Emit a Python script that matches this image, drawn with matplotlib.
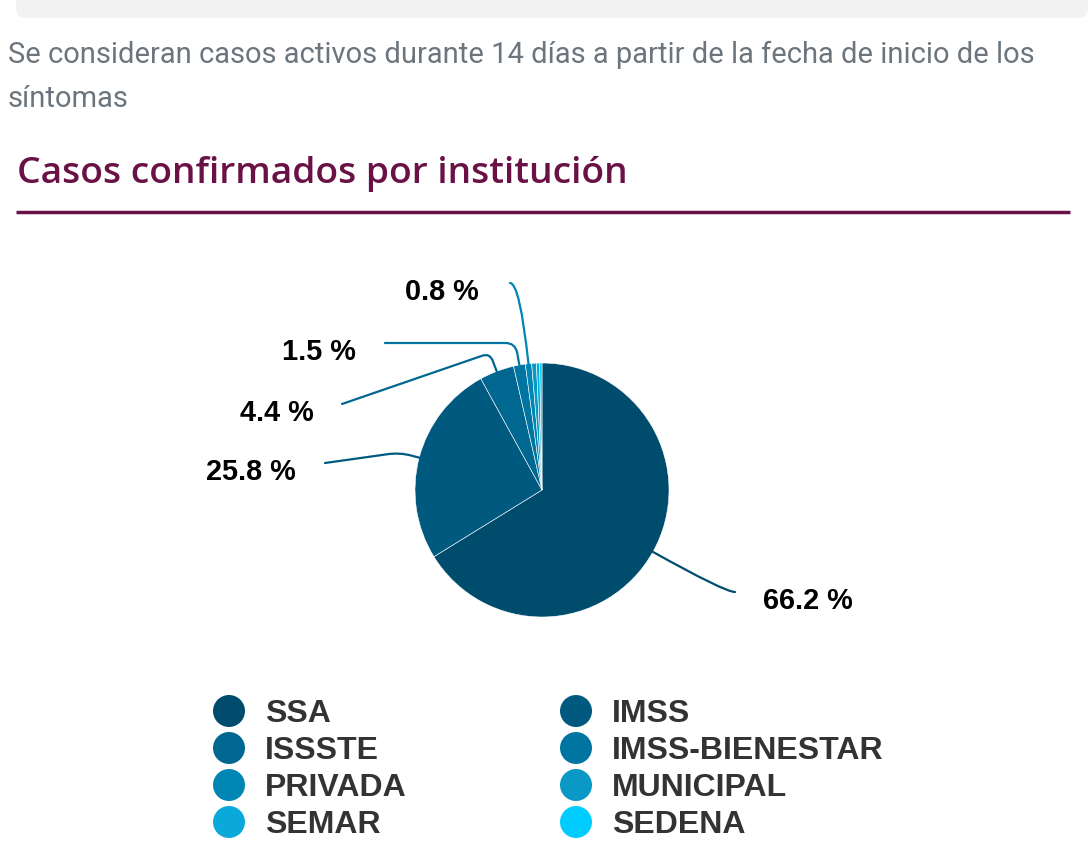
import numpy as np
import matplotlib.pyplot as plt
from matplotlib.patches import Ellipse, FancyBboxPatch

instituciones = ["SSA", "IMSS", "ISSSTE", "IMSS-BIENESTAR", "PRIVADA", "MUNICIPAL", "SEMAR", "SEDENA"]
porcentajes = [66.2, 25.8, 4.4, 1.5, 0.8, 0.6, 0.4, 0.3]
colores = ["#004c6d", "#005a80", "#006790", "#0075a1", "#0086b3", "#0a98c6", "#0aa9d9", "#00ccff"]
etiquetas = ["66.2 %", "25.8 %", "4.4 %", "1.5 %", "0.8 %"]

# label layout (pixel coords, y from top): line start, text x
lab_line = [(735, 592), (325, 463), (342, 404), (385, 343), (510, 283)]
lab_text_x = [763, 296, 314, 356, 479]
lab_conn = ["angle3,angleA=0,angleB={}", "angle,angleA=8,angleB={},rad=12",
            "angle,angleA=19,angleB={},rad=8", "angle,angleA=0,angleB={},rad=10",
            "angle3,angleA=0,angleB={}"]

W, H = 1090, 848
def Y(y):
    return H - y

fig = plt.figure(figsize=(10.9, 8.48), dpi=100)
ax = fig.add_axes([0, 0, 1, 1])

# grey box at top
ax.add_patch(FancyBboxPatch((16, Y(18)), 1072, 40, boxstyle="round,pad=0,rounding_size=10",
                            fc="#f2f2f2", ec="none"))

ax.text(8, Y(55), "Se consideran casos activos durante 14 días a partir de la fecha de inicio de los",
        fontsize=21, color="#6c757d", family="Roboto", va="center", ha="left")
ax.text(8, Y(99), "síntomas", fontsize=21, color="#6c757d", family="Roboto", va="center", ha="left")

ax.text(17, Y(174), "Casos confirmados por institución", fontsize=26.8, color="#6a1246",
        family="Open Sans", va="center", ha="left", fontweight="semibold")
ax.plot([16, 1070], [Y(212), Y(212)], color="#6a1246", lw=2.5, solid_capstyle="butt")

cx, cy, r = 542, Y(490), 127
ax.pie(porcentajes, colors=colores, startangle=90, counterclock=False, center=(cx, cy),
       radius=r, wedgeprops=dict(edgecolor="#ffffff", linewidth=0.4), frame=True)

# connectors and labels
fracs = np.array(porcentajes) / sum(porcentajes)
cum = np.cumsum(fracs) - fracs / 2
for i, txt in enumerate(etiquetas):
    ang = 90 - cum[i] * 360
    ex = cx + r * np.cos(np.radians(ang))
    ey = cy + r * np.sin(np.radians(ang))
    lx, ly = lab_line[i]
    ax.annotate("", xy=(ex, ey), xytext=(lx, Y(ly)),
                arrowprops=dict(arrowstyle="-", color=colores[i], lw=1.6,
                                shrinkA=0, shrinkB=0,
                                connectionstyle=lab_conn[i].format(round(ang % 180, 1))))
    ha = "left" if i == 0 else "right"
    ax.text(lab_text_x[i], Y(ly + 9), txt, fontsize=20.8, fontweight="bold",
            family="Liberation Sans", ha=ha, va="center", color="#000000")

# legend
col_x = [229, 576]
row_y = [711, 748, 785, 822]
for i, name in enumerate(instituciones):
    mx = col_x[i % 2]
    my = Y(row_y[i // 2])
    ax.add_patch(Ellipse((mx, my), 32, 32, fc=colores[i], ec="none"))
    ax.text(mx + 36, my - 3, name, fontsize=23, fontweight="bold", family="Liberation Sans",
            color="#333333", ha="left", va="center")

ax.set_xlim(0, W)
ax.set_ylim(0, H)
ax.set_aspect("equal")
ax.axis("off")
fig.savefig("out.png", dpi=100)
